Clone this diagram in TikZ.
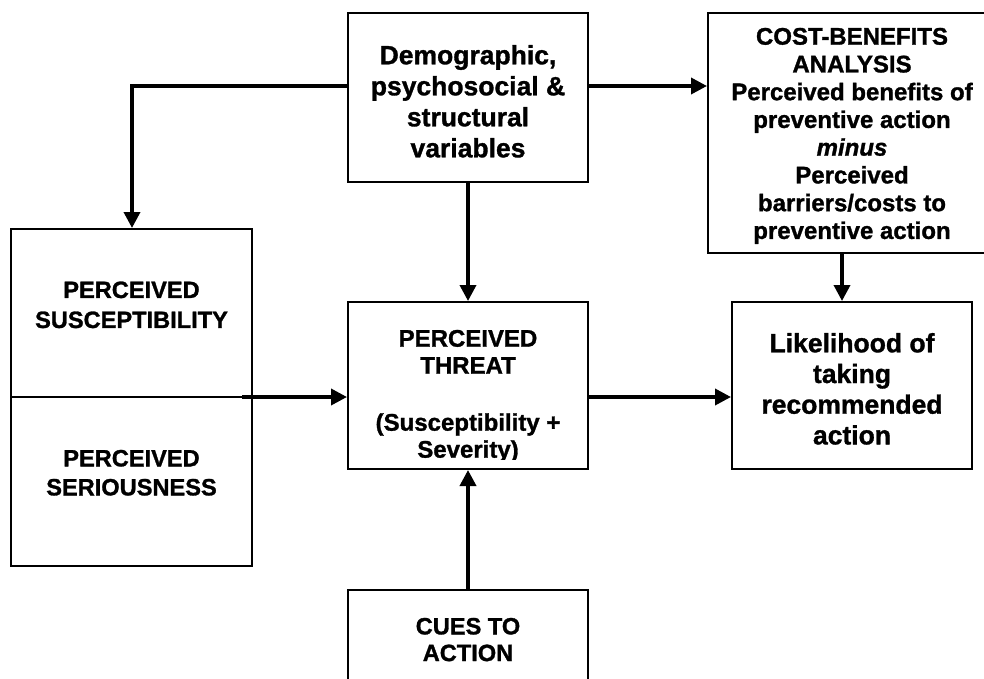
\documentclass[tikz,border=0pt]{standalone}
\usepackage{fontspec}
\setmainfont{Liberation Sans}[BoldFeatures={FakeBold=1.2},BoldItalicFeatures={FakeBold=1.2}]
\usetikzlibrary{arrows.meta}
\begin{document}
\begin{tikzpicture}[x=1pt,y=-1pt,
  box/.style={draw,line width=2pt,inner sep=0pt,minimum width=#1},
  lbl/.style={anchor=north,inner sep=0pt,align=center,font=\bfseries},
  arr/.style={line width=3.6pt,-{Triangle[length=16pt,width=16pt]}},
  divider/.style={line width=1.5pt}]
\useasboundingbox (0,0) rectangle (984,679);

% boxes
\node[box=240pt,minimum height=169pt] (demo)   at (468,97.5)  {};
\node[box=288pt,minimum height=240pt] (cost)   at (852,133)   {};
\node[box=241pt,minimum height=337pt] (perc)   at (131.5,397.5) {};
\node[box=240pt,minimum height=167pt] (threat) at (468,385.5) {};
\node[box=240pt,minimum height=167pt] (like)   at (852,385.5) {};
\node[box=240pt,minimum height=110pt] (cues)   at (468,645)   {};

% texts
\node[lbl,font={\fontsize{26.5}{31}\selectfont\bfseries}] (tdemo) at (468,44.9)
  {Demographic,\\psychosocial \&\\structural\\variables};
\node[lbl,font={\fontsize{24}{27.75}\selectfont\bfseries}] (tcost) at (852,27.7)
  {COST-BENEFITS\\ANALYSIS\\Perceived benefits of\\preventive action\\\textit{minus}\\Perceived\\barriers/costs to\\preventive action};
\node[lbl,font={\fontsize{23.6}{30}\selectfont\bfseries}] (tsus) at (131.5,281.3)
  {PERCEIVED\\SUSCEPTIBILITY};
\node[lbl,font={\fontsize{23.6}{29}\selectfont\bfseries}] (tser) at (131.5,449.7)
  {PERCEIVED\\SERIOUSNESS};
\begin{scope}
  \clip (349,303) rectangle (587,459.5);
  \node[lbl,font={\fontsize{24}{27}\selectfont\bfseries}] (tthreat) at (468,329.7)
    {PERCEIVED\\THREAT\\[30pt](Susceptibility +\\Severity)};
\end{scope}
\node[lbl,font={\fontsize{26.5}{30.7}\selectfont\bfseries}] (tlike) at (852,332.9)
  {Likelihood of\\taking\\recommended\\action};
\node[lbl,font={\fontsize{23.6}{26.7}\selectfont\bfseries}] (tcues) at (468,617.7)
  {CUES TO\\ACTION};

% connectors
\coordinate (bendL) at (132,86);
\coordinate (divL) at (242,397);
\coordinate (drop) at (842,0);
\draw[arr] (demo.west |- bendL) -- (bendL) -- (bendL |- perc.north);
\draw[arr] (demo.east |- bendL) -- (cost.west |- bendL);
\draw[arr] (demo.south) -- (threat.north);
\draw[divider] (perc.west |- divL) -- (perc.east |- divL);
\draw[arr] (divL) -- (threat.west |- divL);
\draw[arr] (threat.east |- divL) -- (like.west |- divL);
\draw[arr] (cost.south -| drop) -- (like.north -| drop);
\draw[arr] (cues.north) -- (threat.south);
\end{tikzpicture}
\end{document}
